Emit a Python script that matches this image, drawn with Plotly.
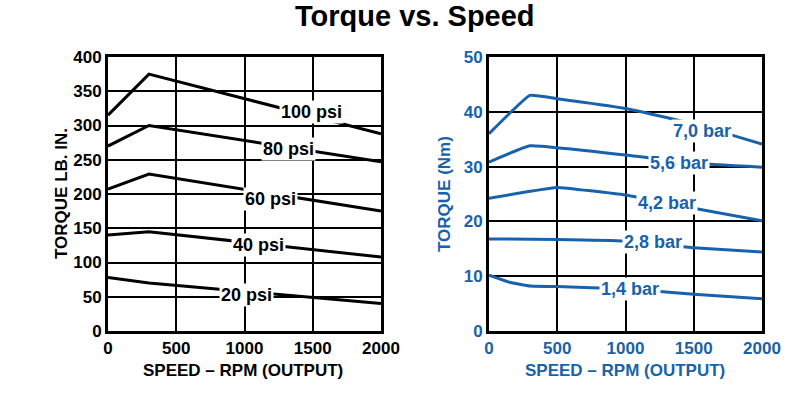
import plotly.graph_objects as go

# ---- data ----
rpm_psi_100 = [0, 300, 2000]
tq_psi_100 = [315, 375, 288]
rpm_psi_80 = [0, 300, 2000]
tq_psi_80 = [270, 300, 247]
rpm_psi_60 = [0, 300, 2000]
tq_psi_60 = [207, 229, 175]
rpm_psi_40 = [0, 300, 2000]
tq_psi_40 = [140, 145, 108]
rpm_psi_20 = [0, 300, 2000]
tq_psi_20 = [78, 70, 40]

psi_labels = ["100 psi", "80 psi", "60 psi", "40 psi", "20 psi"]
psi_label_x = [1494, 1319, 1194, 1099, 1018]
psi_label_y = [319, 265, 193, 126, 53]

rpm_bar_70 = [0, 300, 500, 1000, 1500, 2000]
tq_bar_70 = [36.0, 43.0, 42.4, 40.6, 37.8, 34.1]
rpm_bar_56 = [0, 300, 1000, 1500, 2000]
tq_bar_56 = [30.8, 33.8, 32.1, 30.6, 29.9]
rpm_bar_42 = [0, 300, 500, 1000, 1500, 2000]
tq_bar_42 = [24.2, 25.5, 26.2, 24.8, 22.4, 20.1]
rpm_bar_28 = [0, 500, 1000, 1500, 2000]
tq_bar_28 = [16.8, 16.7, 16.4, 15.2, 14.4]
rpm_bar_14 = [0, 150, 300, 500, 1000, 1500, 2000]
tq_bar_14 = [10.2, 8.9, 8.2, 8.1, 7.7, 6.7, 5.9]

bar_labels = ["7,0 bar", "5,6 bar", "4,2 bar", "2,8 bar", "1,4 bar"]
bar_label_x = [1560, 1394, 1306, 1199, 1033]
bar_label_y = [36.5, 30.7, 23.3, 16.2, 7.6]

x_ticks = [0, 500, 1000, 1500, 2000]

BLACK = "#000000"
BLUE = "#1862ac"
SANS = "Liberation Sans, Arial, sans-serif"
W, H = 800, 396
OFF = 0  # page body margin removed via post_script

def px_x(px):
    return (px - OFF) / W

def px_y(py):
    return 1 - (py - OFF) / H

fig = go.Figure()

for xs, ys in [(rpm_psi_100, tq_psi_100), (rpm_psi_80, tq_psi_80), (rpm_psi_60, tq_psi_60),
               (rpm_psi_40, tq_psi_40), (rpm_psi_20, tq_psi_20)]:
    fig.add_trace(go.Scatter(x=xs, y=ys, mode="lines", line=dict(color=BLACK, width=3),
                             xaxis="x", yaxis="y", showlegend=False, hoverinfo="skip"))

for xs, ys in [(rpm_bar_70, tq_bar_70), (rpm_bar_56, tq_bar_56), (rpm_bar_42, tq_bar_42),
               (rpm_bar_28, tq_bar_28), (rpm_bar_14, tq_bar_14)]:
    fig.add_trace(go.Scatter(x=xs, y=ys, mode="lines",
                             line=dict(color=BLUE, width=3, shape="spline", smoothing=0.3),
                             xaxis="x2", yaxis="y2", showlegend=False, hoverinfo="skip"))

annotations = []
for t, x, y in zip(psi_labels, psi_label_x, psi_label_y):
    annotations.append(dict(text=t, x=x, y=y, xref="x", yref="y", showarrow=False,
                            xanchor="center", yanchor="middle",
                            bgcolor="white", borderpad=1,
                            font=dict(family=SANS, size=18, color=BLACK, weight="bold")))
for t, x, y in zip(bar_labels, bar_label_x, bar_label_y):
    annotations.append(dict(text=t, x=x, y=y, xref="x2", yref="y2", showarrow=False,
                            xanchor="center", yanchor="middle",
                            bgcolor="white", borderpad=1,
                            font=dict(family=SANS, size=18, color=BLUE, weight="bold")))

def paper_note(text, px, py, color, size, angle=0):
    return dict(text=text, x=px_x(px), y=px_y(py), xref="paper", yref="paper",
                xanchor="center", yanchor="middle", textangle=angle, showarrow=False,
                font=dict(family=SANS, size=size, color=color, weight="bold"))

annotations += [
    paper_note("TORQUE LB. IN.", 62, 194, BLACK, 17, -90),
    paper_note("TORQUE (Nm)", 445, 194, BLUE, 17, -90),
    paper_note("SPEED – RPM (OUTPUT)", 243, 370, BLACK, 17),
    paper_note("SPEED – RPM (OUTPUT)", 625, 370, BLUE, 17),
    paper_note("Torque vs. Speed", 415, 16, BLACK, 29),
]

ydom = [px_y(331), px_y(57)]

def xax(domain, anchor, color):
    return dict(domain=domain, anchor=anchor, range=[0, 2000], tickvals=x_ticks,
                showgrid=True, gridcolor=BLACK, gridwidth=1.5, zeroline=False,
                showline=True, linecolor=BLACK, linewidth=3, mirror=True, ticks="",
                automargin=False,
                tickfont=dict(family=SANS, size=17, color=color, weight="bold"),
                fixedrange=True)

def yax(domain, anchor, rng, dtick, color):
    return dict(domain=domain, anchor=anchor, range=rng, dtick=dtick, tick0=0,
                showgrid=True, gridcolor=BLACK, gridwidth=1.5, zeroline=False,
                showline=True, linecolor=BLACK, linewidth=3, mirror=True, ticks="",
                automargin=False,
                tickfont=dict(family=SANS, size=17, color=color, weight="bold"),
                fixedrange=True)

fig.update_layout(
    width=W, height=H,
    margin=dict(l=0, r=0, t=0, b=0, autoexpand=False),
    paper_bgcolor="white", plot_bgcolor="white",
    xaxis=xax([px_x(108), px_x(381)], "y", BLACK),
    yaxis=yax(ydom, "x", [0, 400], 50, BLACK),
    xaxis2=xax([px_x(489), px_x(762)], "y2", BLUE),
    yaxis2=yax(ydom, "x2", [0, 50], 10, BLUE),
    annotations=annotations,
    showlegend=False,
)

fig.write_html("out.html", config={"displayModeBar": False},
               post_script="document.body.style.margin='0';document.body.style.overflow='hidden';")
